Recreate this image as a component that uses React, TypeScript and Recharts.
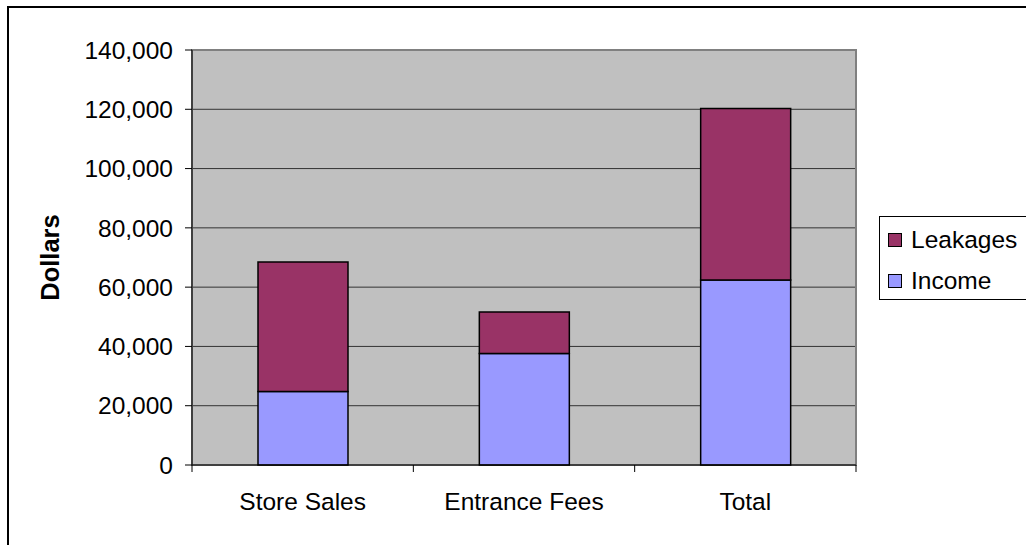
import React from "react";
import {
  BarChart,
  Bar,
  XAxis,
  YAxis,
  CartesianGrid,
  Legend,
  ReferenceArea,
} from "recharts";

const categories = ["Store Sales", "Entrance Fees", "Total"];
const income = [24800, 37600, 62400];
const leakages = [43700, 14000, 57900];
const yTicks = [0, 20000, 40000, 60000, 80000, 100000, 120000, 140000];

const series = [
  { key: "income", name: "Income", color: "#9999FF" },
  { key: "leakages", name: "Leakages", color: "#993366" },
];

const data = categories.map((name, i) => ({
  name,
  income: income[i],
  leakages: leakages[i],
}));

const FONT = "'Liberation Sans', Arial, sans-serif";
const TICK_GAP = 28;

// category labels plus the little tick marks between the categories
const CategoryTick = (props: any) => {
  const { x, y, payload, index } = props;
  const half = payload.offset ?? 0;
  const axisY = y - TICK_GAP;
  const last = index === categories.length - 1;
  return (
    <g>
      <line x1={x - half} x2={x - half} y1={axisY} y2={axisY + 7} stroke="#000" />
      {last && (
        <line x1={x + half} x2={x + half} y1={axisY} y2={axisY + 7} stroke="#000" />
      )}
      <text
        x={x}
        y={y}
        dy={17}
        textAnchor="middle"
        fill="#000"
        fontSize={24.5}
        fontFamily={FONT}
      >
        {payload.value}
      </text>
    </g>
  );
};

const LegendBox = () => {
  const items = [...series].reverse();
  return (
    <div
      style={{
        position: "relative",
        width: 200,
        height: 84,
        border: "1px solid #000",
        background: "#fff",
        boxSizing: "border-box",
        fontFamily: FONT,
        fontSize: 24.5,
        color: "#000",
      }}
    >
      {items.map((s, i) => (
        <div
          key={s.key}
          style={{
            position: "absolute",
            left: 8,
            top: 8 + i * 41,
            height: 30,
            display: "flex",
            alignItems: "center",
            whiteSpace: "nowrap",
          }}
        >
          <span
            style={{
              display: "inline-block",
              width: 14,
              height: 14,
              background: s.color,
              border: "1.5px solid #000",
              boxSizing: "border-box",
              marginRight: 9,
            }}
          />
          {s.name}
        </div>
      ))}
    </div>
  );
};

const App = () => {
  return (
    <div
      style={{
        position: "fixed",
        left: 7,
        top: 6,
        width: 1040,
        height: 560,
        border: "2px solid #000",
        background: "#fff",
        fontFamily: FONT,
      }}
    >
      <BarChart
        width={1030}
        height={545}
        data={data}
        barSize={90}
        margin={{ top: 42, right: 183, left: 0, bottom: 28 }}
      >
        <CartesianGrid
          vertical={false}
          fill="#C0C0C0"
          stroke="#333"
          strokeWidth={1}
        />
        <ReferenceArea
          y1={0}
          y2={140000}
          fill="none"
          stroke="#808080"
          strokeWidth={2}
          ifOverflow="visible"
        />
        <XAxis
          dataKey="name"
          height={60}
          axisLine={{ stroke: "#000" }}
          tickLine={false}
          tickSize={0}
          tickMargin={TICK_GAP}
          tick={<CategoryTick />}
          interval={0}
        />
        <YAxis
          width={183}
          domain={[0, 140000]}
          ticks={yTicks}
          interval={0}
          tickFormatter={(v: number) => v.toLocaleString("en-US")}
          axisLine={{ stroke: "#000" }}
          tickLine={{ stroke: "#000" }}
          tickSize={7}
          tickMargin={12}
          tick={{ fill: "#000", fontSize: 24.5, fontFamily: FONT }}
          label={{
            value: "Dollars",
            angle: -90,
            position: "insideLeft",
            offset: 41,
            style: {
              textAnchor: "middle",
              fontWeight: "bold",
              fontSize: 25.5,
              fill: "#000",
              fontFamily: FONT,
            },
          }}
        />
        <Legend
          layout="horizontal"
          align="center"
          verticalAlign="middle"
          wrapperStyle={{ left: 870, top: 208, width: 200, height: 84 }}
          content={() => <LegendBox />}
        />
        {series.map((s) => (
          <Bar
            key={s.key}
            dataKey={s.key}
            name={s.name}
            stackId="a"
            fill={s.color}
            stroke="#000"
            strokeWidth={1.5}
            isAnimationActive={false}
          />
        ))}
      </BarChart>
    </div>
  );
};

export default App;
